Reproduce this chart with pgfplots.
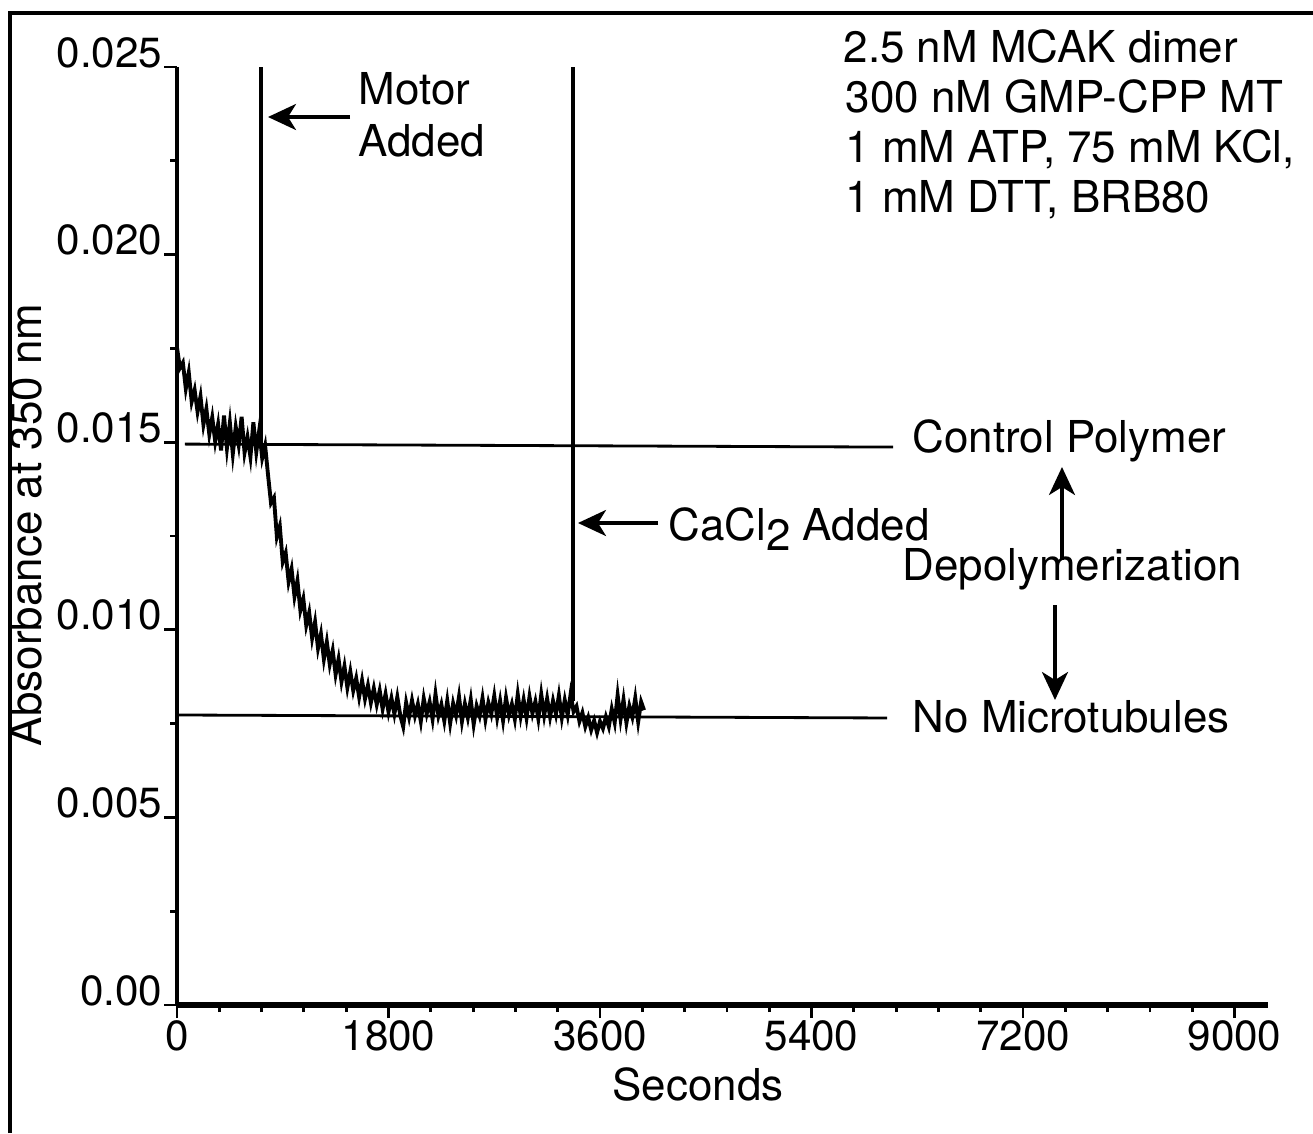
\documentclass[border=0pt]{standalone}
\usepackage{fontspec}
\setmainfont{TeX Gyre Heros}
\usepackage{pgfplots}
\pgfplotsset{compat=1.18}
\usetikzlibrary{arrows.meta}

\begin{document}
\begin{tikzpicture}[font=\fontsize{12.5}{15}\selectfont,
  arr/.style={line width=1pt, -{Stealth[length=0.28cm, width=0.26cm, inset=0.08cm]}}]
\useasboundingbox (0,0) rectangle (13.13,11.33);
% scan frame
\draw[line width=1pt] (0.10,0) -- (0.10,11.20);
\draw[line width=1.2pt] (0.08,11.20) -- (13.13,11.20);

\begin{axis}[
  at={(1.77cm,1.28cm)}, anchor=south west,
  scale only axis, width=10.91cm, height=9.38cm,
  xmin=0, xmax=9285, ymin=0, ymax=0.025,
  enlargelimits=false,
  axis x line=bottom, axis y line=left,
  x axis line style={-, line width=1.8pt},
  y axis line style={-, line width=0.9pt},
  tick align=outside,
  major tick length=0.13cm, minor tick length=0.07cm,
  every tick/.style={black, line width=0.8pt},
  xtick={0,1800,3600,5400,7200,9000}, minor x tick num=4,
  xticklabels={0,1800,3600,5400,7200,9000},
  ytick={0,0.005,0.010,0.015,0.020,0.025}, minor y tick num=1,
  yticklabels={0.00,0.005,0.010,0.015,0.020,0.025},
  scaled y ticks=false,
  /pgf/number format/assume math mode=true,
  xticklabel style={font=\fontsize{12}{14}\selectfont, inner sep=0pt, yshift=-0.02cm},
  yticklabel style={font=\fontsize{12}{14}\selectfont, anchor=base east, inner sep=0pt, xshift=-0.01cm},
  clip=false,
]
% trace
\addplot[black, line width=1.1pt] table {
t A
0 0.01752
25 0.01698
50 0.01712
75 0.01643
100 0.01686
125 0.01608
150 0.01639
175 0.01581
200 0.01622
225 0.01547
250 0.01589
275 0.01521
300 0.01566
325 0.01502
350 0.01548
375 0.01478
400 0.01571
425 0.01484
450 0.01552
475 0.01469
500 0.01541
525 0.01493
550 0.01568
575 0.01472
600 0.01514
625 0.01461
650 0.01553
675 0.01474
700 0.01532
725 0.01458
750 0.01491
775 0.01412
800 0.01338
825 0.01352
850 0.01248
875 0.01276
900 0.01181
925 0.01205
950 0.01128
975 0.01162
1000 0.01089
1025 0.01131
1050 0.01052
1075 0.01083
1100 0.01012
1125 0.01046
1150 0.00978
1175 0.01021
1200 0.00951
1225 0.00989
1250 0.00922
1275 0.00968
1300 0.00908
1325 0.00945
1350 0.00881
1375 0.00922
1400 0.00862
1425 0.00903
1450 0.00846
1475 0.00889
1500 0.00838
1525 0.00871
1550 0.00821
1575 0.00865
1600 0.00816
1625 0.00852
1650 0.00806
1675 0.00844
1700 0.00801
1725 0.00838
1750 0.00789
1775 0.00829
1800 0.00781
1825 0.00818
1850 0.00776
1875 0.00821
1900 0.00772
1925 0.00742
1950 0.00806
1975 0.00768
2000 0.00812
2025 0.00771
2050 0.00802
2075 0.00756
2100 0.00817
2125 0.00776
2150 0.00808
2175 0.00762
2200 0.00829
2225 0.00771
2250 0.00801
2275 0.00757
2300 0.00811
2325 0.00751
2350 0.00804
2375 0.00772
2400 0.00822
2425 0.00756
2450 0.00803
2475 0.00766
2500 0.00814
2525 0.00748
2550 0.00797
2575 0.00771
2600 0.00818
2625 0.00761
2650 0.00806
2675 0.00776
2700 0.00824
2725 0.00766
2750 0.00811
2775 0.00758
2800 0.00819
2825 0.00773
2850 0.00802
2875 0.00762
2900 0.00828
2925 0.00770
2950 0.00814
2975 0.00765
3000 0.00822
3025 0.00777
3050 0.00809
3075 0.00763
3100 0.00828
3125 0.00772
3150 0.00817
3175 0.00768
3200 0.00811
3225 0.00775
3250 0.00825
3275 0.00766
3300 0.00813
3325 0.00773
3350 0.00829
3375 0.00782
3400 0.00796
3425 0.00756
3450 0.00779
3475 0.00742
3500 0.00766
3525 0.00733
3550 0.00758
3575 0.00726
3600 0.00756
3625 0.00737
3650 0.00768
3675 0.00742
3700 0.00789
3725 0.00753
3750 0.00826
3775 0.00762
3800 0.00814
3825 0.00752
3850 0.00797
3875 0.00768
3900 0.00818
3925 0.00755
3950 0.00808
3975 0.00786
};
% reference lines
\addplot[black, line width=0.9pt] coordinates {(715,0.025) (715,0.01495)};
\addplot[black, line width=0.9pt] coordinates {(3370,0.025) (3370,0.0081)};
\addplot[black, line width=0.8pt] coordinates {(68,0.01495) (6094,0.01487)};
\addplot[black, line width=0.8pt] coordinates {(0,0.00773) (6043,0.00765)};
\end{axis}

% annotations
\node[anchor=base west, inner sep=0pt] at (8.43,10.71) {2.5 nM MCAK dimer};
\node[anchor=base west, inner sep=0pt] at (8.45,10.21) {300 nM GMP-CPP MT};
\node[anchor=base west, inner sep=0pt] at (8.45,9.71) {1 mM ATP, 75 mM KCl,};
\node[anchor=base west, inner sep=0pt] at (8.45,9.21) {1 mM DTT, BRB80};

\node[anchor=base west, inner sep=0pt] at (3.58,10.29) {Motor};
\node[anchor=base west, inner sep=0pt] at (3.58,9.77) {Added};
\draw[arr] (3.50,10.16) -- (2.68,10.16);

\node[anchor=base west, inner sep=0pt] at (9.12,6.81) {Control Polymer};
\node[anchor=base west, inner sep=0pt] at (6.68,5.93) {CaCl\raisebox{-0.45ex}{2} Added};
\draw[arr] (6.58,6.10) -- (5.78,6.10);

\node[anchor=base west, inner sep=0pt] at (9.02,5.53) {Depolymerization};
\draw[arr] (10.62,5.73) -- (10.62,6.66);
\draw[arr] (10.55,5.28) -- (10.55,4.33);
\node[anchor=base west, inner sep=0pt] at (9.12,4.01) {No Microtubules};

\node[anchor=base, inner sep=0pt] at (6.98,0.33) {Seconds};
\node[anchor=base, rotate=90, inner sep=0pt] at (0.42,6.08) {Absorbance at 350 nm};
\end{tikzpicture}
\end{document}
